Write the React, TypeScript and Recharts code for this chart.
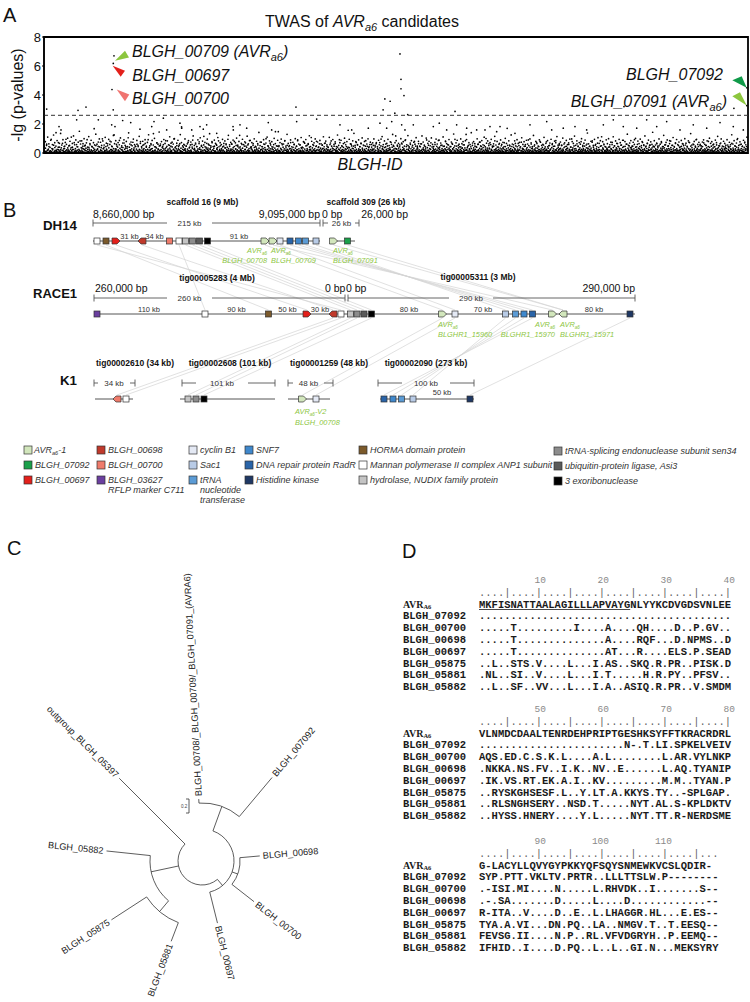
import React from 'react';
import { ScatterChart, Scatter, XAxis, YAxis, ReferenceLine, ReferenceArea, ReferenceDot } from 'recharts';

const SANS = "Arial, 'Liberation Sans', Helvetica, sans-serif";
const MONO = "'Courier New', 'Liberation Mono', monospace";

// ---------------- Panel A data ----------------
const Y_TICKS = [0, 2, 4, 6, 8];
const THRESHOLD = 2.6;
const N_GENES = 1200;
// -lg(p) of the bulk of genes, in hundredths, in genome order
const baseHundredths = [
  12,4,33,8,61,19,2,27,45,9,15,88,6,31,22,3,54,11,38,7,140,18,26,5,72,14,41,9,23,36,2,67,17,29,10,48,6,95,21,13,
  35,8,19,52,3,27,110,14,40,6,24,71,11,30,17,58,2,43,9,25,16,83,5,37,20,12,64,28,7,49,18,33,1,92,26,10,39,15,57,4,
  21,46,13,7,34,168,25,9,51,18,3,29,76,12,42,6,22,37,15,98,8,31,55,19,2,44,27,11,63,5,36,14,82,23,10,47,17,4,30,125,
  9,28,16,59,6,41,20,13,87,32,4,24,50,15,38,8,69,26,11,45,2,33,18,105,7,40,22,14,56,29,5,74,19,35,12,48,3,27,61,16,
  44,11,25,6,79,18,36,9,53,14,30,2,66,21,47,10,26,92,5,38,17,23,57,8,31,15,134,12,43,20,3,35,70,13,28,7,49,19,62,24,
  7,39,15,58,22,4,31,85,12,46,19,27,6,53,34,10,68,16,42,3,25,97,14,37,8,29,51,18,5,44,21,64,11,33,180,9,26,40,17,55,
  30,13,48,2,27,73,16,35,8,56,20,11,41,89,5,24,32,14,62,7,45,19,28,10,77,36,3,23,52,15,38,6,115,21,43,12,29,67,9,34,
  18,54,6,26,40,11,71,22,3,33,47,15,9,60,28,37,13,84,4,25,50,17,31,7,42,20,66,12,36,1,57,23,14,95,30,8,46,19,27,63,
  25,9,37,16,80,4,29,52,13,21,44,6,35,122,18,27,10,59,33,15,3,48,24,70,11,39,7,56,20,31,14,87,5,42,26,17,64,9,38,22,
  13,41,28,6,55,19,33,10,76,24,2,45,16,30,62,8,37,21,99,12,26,50,4,35,18,68,29,11,43,7,23,58,15,34,147,20,9,47,27,14,
  51,17,8,32,23,65,12,40,5,28,86,19,36,9,53,25,14,44,3,31,72,16,27,10,39,21,59,6,34,13,47,24,91,11,29,4,57,18,38,8,
  20,36,11,74,27,4,49,15,31,22,60,8,41,17,26,107,13,35,6,52,19,29,10,45,81,24,2,38,16,63,12,33,21,7,55,30,14,43,25,69,
  6,29,45,14,38,21,9,58,26,83,12,34,18,3,47,23,66,10,30,16,41,5,27,92,19,36,11,50,24,8,39,15,72,28,13,44,2,32,157,20,
  37,10,24,61,16,32,7,48,20,13,39,78,25,4,55,17,29,11,43,22,64,9,34,18,5,51,26,14,85,31,8,46,20,37,12,58,23,6,41,27,
  15,52,28,9,42,19,71,3,33,24,12,57,36,16,96,8,27,45,21,11,38,6,62,25,14,49,30,17,4,35,23,74,10,40,19,53,27,13,32,118,
  28,8,47,20,34,13,56,25,11,68,5,39,22,30,16,87,12,44,26,3,51,18,35,9,60,29,15,41,22,7,33,80,19,48,11,27,38,14,65,21,
  10,43,17,63,26,6,35,21,49,14,28,103,9,37,19,54,12,31,24,70,7,42,16,33,23,11,58,27,4,46,20,36,13,89,25,9,52,17,30,15,
  46,22,12,30,79,17,40,8,26,55,33,15,21,44,10,67,28,5,38,18,94,13,29,48,20,11,36,61,8,25,42,16,31,7,57,23,14,35,19,128,
  24,37,6,53,15,27,12,43,31,9,69,20,35,14,48,26,3,40,17,59,22,10,32,76,13,45,28,6,38,18,51,11,27,100,16,34,21,8,63,29,
  11,58,25,16,39,7,47,22,84,13,30,19,41,5,26,60,18,34,10,50,28,15,37,9,71,23,44,12,29,170,17,36,8,54,20,31,14,45,24,6,
  39,13,30,66,19,9,43,27,14,51,22,36,4,75,16,32,25,11,46,20,58,7,28,38,15,90,24,10,41,18,62,12,33,21,6,48,27,16,35,73,
  17,34,9,45,23,81,14,28,6,39,20,55,12,30,18,67,25,8,43,33,13,52,19,27,2,37,64,15,29,10,47,22,86,16,31,9,40,25,56,12,
  32,20,54,11,27,15,38,70,9,24,46,18,33,7,59,26,13,41,22,97,16,35,10,49,28,5,31,19,63,12,44,23,8,36,17,78,26,14,52,30,
  14,48,23,8,36,62,18,29,11,45,25,7,34,19,83,13,40,27,16,53,9,30,21,68,15,38,24,3,47,20,112,11,35,26,57,17,8,42,22,33,
  26,9,41,19,57,12,31,24,73,16,38,6,49,22,14,35,28,65,10,43,18,30,7,54,25,14,39,88,20,11,46,27,16,61,9,33,22,49,13,37,
  8,35,22,47,14,28,92,17,40,11,26,60,19,33,5,45,21,15,37,79,24,10,52,29,18,42,8,31,67,14,25,40,19,55,27,11,36,143,20,44,
  42,16,29,11,64,23,37,13,50,19,8,33,71,25,17,44,10,36,22,57,14,28,6,47,31,19,85,12,38,24,9,53,29,16,41,21,66,13,30,18,
  19,51,13,38,25,8,46,30,17,62,21,34,11,55,27,15,42,6,31,74,19,26,48,13,37,22,10,58,28,16,40,91,18,32,9,45,24,14,60,27,
  33,12,44,22,70,15,29,9,52,36,18,25,80,11,39,20,14,47,27,8,35,61,16,43,23,10,56,30,18,37,12,49,26,69,15,33,21,7,44,28,
  21,40,16,31,9,55,24,37,14,46,28,12,67,19,34,23,8,50,29,17,41,93,13,36,25,10,58,20,31,15,47,26,12,39,76,18,30,45,22,35,
];
// second set of genes: the dense floor (hundredths)
const lowHundredths = [
  3,12,7,21,5,15,9,28,2,18,11,6,24,13,4,19,8,31,14,1,22,10,6,17,26,3,13,9,20,5,16,11,33,7,23,4,14,10,27,8,
  15,5,19,10,2,25,12,7,17,4,30,9,14,21,6,11,3,23,16,8,13,27,5,18,10,1,22,12,7,34,9,15,4,20,11,6,24,13,2,17,
  9,22,4,14,26,8,16,3,11,20,6,29,13,5,18,10,2,24,15,7,12,32,4,19,9,14,6,21,11,3,25,16,8,13,28,5,17,10,1,23,
  20,7,13,2,17,11,31,5,22,9,14,4,26,12,8,19,3,15,10,23,6,29,13,1,18,11,7,24,4,16,9,21,14,5,35,12,3,19,8,15,
  6,18,11,27,4,14,9,22,16,3,12,25,7,19,10,2,30,13,5,17,8,21,12,4,15,26,9,6,23,11,3,18,14,7,28,10,5,20,13,2,
  13,4,24,8,16,1,20,11,6,28,14,9,3,18,12,22,5,15,10,33,7,13,2,19,16,8,25,4,11,21,6,14,17,3,23,9,12,30,5,16,
  10,21,5,15,12,7,29,3,18,13,8,24,4,16,11,20,6,26,9,14,2,19,12,31,5,17,10,7,22,14,3,27,8,15,11,4,21,13,6,18,
  24,9,16,3,13,20,7,11,32,5,17,10,14,2,23,8,15,19,4,12,28,6,16,9,13,21,3,18,11,7,25,14,5,10,20,2,16,12,29,8,
  4,17,12,23,8,14,2,19,10,26,6,13,21,9,16,3,30,11,7,18,14,5,24,12,1,20,9,15,27,6,12,4,22,17,8,13,35,10,5,19,
  17,6,28,11,4,15,22,9,13,7,19,3,25,12,16,5,21,10,14,33,8,18,2,12,24,7,15,11,6,20,9,29,4,14,17,3,23,11,8,16,
  11,25,7,14,19,3,16,10,27,5,12,20,8,15,4,31,13,6,18,11,2,22,9,16,7,26,12,4,19,14,10,24,5,17,8,13,21,3,15,28,
  7,14,20,4,11,29,6,17,12,2,23,9,15,18,5,13,26,8,11,21,4,16,10,34,7,19,13,3,24,9,14,6,20,12,1,17,27,8,15,10,
  19,3,12,26,9,16,5,21,14,8,30,11,4,17,13,23,7,10,18,2,25,12,6,15,20,9,13,28,4,16,11,22,5,14,8,19,3,24,12,7,
  14,23,8,11,2,18,13,32,6,15,10,20,4,27,12,9,16,5,22,13,7,19,11,3,25,14,8,17,10,29,6,12,21,4,16,9,24,13,2,18,
  5,16,10,21,13,7,24,3,14,19,11,6,28,9,17,4,22,12,15,8,31,10,2,18,13,26,6,15,11,20,7,23,14,3,17,12,9,27,5,21,
];
// third set of genes: the mid-level haze (hundredths)
const midHundredths = [
  45,78,52,110,63,39,95,58,124,71,48,86,40,67,135,55,92,44,73,60,102,49,81,38,66,118,57,90,43,75,150,62,84,47,99,54,70,41,113,65,
  88,42,71,56,130,61,46,97,74,52,83,39,108,68,50,94,59,77,43,121,64,85,48,72,57,104,41,69,91,53,80,45,139,62,76,50,96,58,44,87,
  53,115,67,44,81,58,92,40,73,126,49,64,87,55,101,42,70,61,145,51,79,46,93,66,38,84,57,112,47,75,62,99,43,68,88,54,127,72,49,60,
  97,48,63,85,41,76,59,118,52,69,44,91,65,105,47,82,56,73,39,96,61,133,50,78,45,89,67,54,107,43,71,58,94,48,83,63,40,122,57,74,
  61,89,45,70,103,54,80,42,67,95,58,77,48,116,63,86,40,72,53,98,46,81,64,142,51,75,43,92,60,69,110,47,84,56,78,41,101,65,50,88,
  44,72,96,57,62,83,48,129,66,51,90,43,74,59,99,46,85,62,55,107,41,78,68,93,52,64,119,45,81,58,70,97,49,76,42,87,63,54,112,67,
  82,56,41,108,69,47,93,60,77,44,124,53,71,88,46,65,102,57,79,40,95,63,49,84,136,52,73,58,91,45,68,104,55,80,47,62,98,43,75,59,
  70,97,53,64,45,88,72,49,113,58,83,42,66,94,51,77,60,128,46,71,85,54,67,43,99,62,78,48,91,57,120,44,69,86,52,74,61,106,47,81,
  48,63,118,76,55,42,90,67,81,50,104,59,45,73,96,62,87,40,69,54,111,47,82,65,58,93,44,76,61,131,49,70,88,53,43,97,64,79,56,85,
  93,46,71,58,140,52,79,64,44,98,61,75,49,86,57,109,42,68,83,51,72,94,47,63,115,55,80,41,67,90,59,74,45,101,66,53,84,48,125,62,
  57,84,49,92,66,73,43,105,59,78,47,88,62,51,97,70,44,121,56,81,65,48,91,74,53,60,108,42,77,86,50,69,95,58,46,82,71,113,54,64,
  76,51,103,62,45,87,58,70,96,41,79,66,117,53,84,48,72,61,99,44,68,89,55,138,63,47,81,74,52,94,59,43,106,67,85,50,78,62,45,91,
  64,99,42,75,58,112,50,83,67,46,94,71,55,88,44,79,62,130,53,69,86,47,74,59,101,43,82,65,96,51,73,57,118,48,66,89,54,77,60,47,
  85,55,68,47,97,61,79,44,122,56,73,90,49,65,82,53,107,45,70,93,58,76,43,87,64,51,99,68,46,84,72,134,55,62,80,47,95,59,74,52,
  49,76,91,60,53,84,45,102,67,78,56,43,89,71,115,50,63,97,48,81,66,54,92,44,74,58,126,62,85,47,69,100,52,77,61,45,88,70,57,109,
];
// sparse upper cloud (1.3 - 2.4)
const upperX = [25.6,29,55.7,92.6,115.4,121,134.1,147.8,163.6,183.6,187.5,203.4,209.1,231.8,234.7,251.8,265.9,271.5,294.4,322.2,334.1,345.5,
  277.3,322.7,382.3,388.1,399.4,430.7,464.8,504.5,524.5,552.8,572.7,584.1,592.7,609.7,615.3,629.5,663.6,673.8,686.4,703.4,720.5,737.5,760.2,771.6,
  751.7,777.3,802.8,828.4,856.9,865.4,885.1,905.1,925,953.4,970.4,987.4,1010.3,1027.3,1044.4,1061.4,1084.1,1106.7,1129.6,1152.3,1174.9,1192];
const upperY = [1.82,1.59,2.29,2.29,1.94,1.82,2.24,2.1,1.64,1.82,2.17,2.4,1.59,2.06,1.71,1.59,1.82,1.64,1.36,1.82,1.94,1.71,
  1.94,1.59,2.1,1.59,1.47,2.17,2.34,1.94,1.59,1.71,2.06,1.71,2.17,1.94,1.59,1.94,1.82,2.06,1.59,1.94,1.71,1.59,1.82,1.47,
  1.59,1.82,1.36,1.94,2.17,1.59,1.71,1.82,1.59,1.94,2.29,1.82,1.71,2.29,1.82,2.17,1.59,1.94,1.71,2.1,1.82,1.59];
// genes above / near the threshold
const peakX = [119.3,118.1,115.9,1197.8,1197.8,606.8,608.5,608.5,613.6,581,590,578,429.5,700.6,4.6,71.6,58,988.6,1176,598,620,118];
const peakY = [6.7,6.18,4.38,4.5,3.27,6.83,5.08,4.43,3.96,3.73,3.57,2.98,3.17,2.87,3.03,3.17,2.94,3.2,3.08,2.75,2.65,2.98];

const baseData = baseHundredths.map((v, i) => ({ x: i + 0.5, y: v / 100 }));
const lowData = lowHundredths.map((v, i) => ({ x: i * 2 + 1, y: v / 100 }));
const midData = midHundredths.map((v, i) => ({ x: i * 2 + 0.3, y: v / 100 }));
const upperData = upperX.map((x, i) => ({ x, y: upperY[i] }));
const peakData = peakX.map((x, i) => ({ x, y: peakY[i] }));

type Ann = { x: number; y: number; color: string; tri: number[][]; label: string; avr: boolean; dx: number; dy: number; anchor: 'start' | 'end' };
const ANNOTATIONS: Ann[] = [
  { x: 119.3, y: 6.7, color: '#8cc63e', tri: [[1, 5], [11, -5], [15, 1.6]], label: 'BLGH_00709 (', avr: true, dx: 18, dy: 1.5, anchor: 'start' },
  { x: 118.1, y: 6.18, color: '#e3201b', tri: [[-0.6, 2.4], [11.7, 7.4], [7.4, 13.4]], label: 'BLGH_00697', avr: false, dx: 19, dy: 17.7, anchor: 'start' },
  { x: 115.9, y: 4.38, color: '#f07470', tri: [[4.7, 0], [17.3, 5], [13, 11.7]], label: 'BLGH_00700', avr: false, dx: 20, dy: 15, anchor: 'start' },
  { x: 1197.8, y: 4.5, color: '#109a49', tri: [[-14.4, -7.6], [-5, -11.6], [0, 0]], label: 'BLGH_07092', avr: false, dx: -23.7, dy: -7.3, anchor: 'end' },
  { x: 1197.8, y: 3.27, color: '#8cc63e', tri: [[-14.4, -9.3], [-6.7, -13.3], [0, 0]], label: 'BLGH_07091 (', avr: true, dx: -19.7, dy: 1, anchor: 'end' },
];

const dot = (p: any) => <circle cx={p.cx} cy={p.cy} r={0.85} fill="#000" />;

const annShape = (a: Ann) => (p: any) => {
  const { cx, cy } = p;
  if (cx == null || cy == null) return <g />;
  const pts = a.tri.map(([dx, dy]) => `${cx + dx},${cy + dy}`).join(' ');
  return (
    <g>
      <polygon points={pts} fill={a.color} />
      <text x={cx + a.dx} y={cy + a.dy} textAnchor={a.anchor} fontSize={16} fontStyle="italic" fontFamily={SANS} fill="#111">
        {a.label}
        {a.avr ? 'AVR' : ''}
        {a.avr ? <tspan fontSize={11} dy={4}>a6</tspan> : null}
        {a.avr ? <tspan dy={-4}>)</tspan> : null}
      </text>
    </g>
  );
};

// ---------------- Panel B data ----------------
type Gene = { x: number; t: 'b' | 'r' | 'l'; c: string };
const C_AVR = '#d2e6bc', C_07092 = '#1aa04a', C_00697 = '#e3201b', C_00698 = '#c0392b', C_00700 = '#ef7b6b', C_03627 = '#6b3fa0';
const C_CYC = '#e4e9f4', C_SAC = '#b8cbe6', C_TRNA = '#5b9bd5', C_SNF7 = '#3f88cc', C_RADR = '#2a64a8', C_HIS = '#1f3864';
const C_HORMA = '#7b5a2b', C_MANNAN = '#ffffff', C_NUDIX = '#c4c4c4', C_SEN34 = '#8c8c8c', C_ASI3 = '#5a5a5a', C_EXO = '#000000';

const DH14_Y = 241, RACE1_Y = 314, K1_Y = 399;
const DH14_LINES = [[93, 320], [330, 355]];
const DH14_GENES: Gene[] = [
  { x: 97, t: 'b', c: C_MANNAN }, { x: 106, t: 'b', c: C_HORMA }, { x: 116, t: 'r', c: C_00697 }, { x: 142, t: 'l', c: C_00698 },
  { x: 169.5, t: 'b', c: C_00700 }, { x: 179, t: 'b', c: C_MANNAN }, { x: 185.5, t: 'b', c: C_NUDIX }, { x: 192.5, t: 'b', c: C_SEN34 },
  { x: 199.5, t: 'b', c: C_ASI3 }, { x: 207.5, t: 'b', c: C_EXO }, { x: 265, t: 'r', c: C_AVR }, { x: 273, t: 'r', c: C_AVR },
  { x: 280, t: 'b', c: C_CYC }, { x: 290, t: 'b', c: C_RADR }, { x: 298.5, t: 'b', c: C_SNF7 }, { x: 305.5, t: 'b', c: C_TRNA },
  { x: 316, t: 'b', c: C_SAC }, { x: 333.5, t: 'r', c: C_AVR }, { x: 347.5, t: 'b', c: C_07092 },
];
const DH14_DIST = [[129.5, '31 kb'], [154.5, '34 kb'], [239, '91 kb']] as [number, string][];
const RACE1_LINES = [[94, 635]];
const RACE1_GENES: Gene[] = [
  { x: 97, t: 'b', c: C_03627 }, { x: 205, t: 'b', c: C_MANNAN }, { x: 268.5, t: 'b', c: C_HORMA }, { x: 307, t: 'r', c: C_00697 },
  { x: 333, t: 'l', c: C_00698 }, { x: 341, t: 'b', c: C_MANNAN }, { x: 350.5, t: 'b', c: C_NUDIX }, { x: 357, t: 'b', c: C_SEN34 },
  { x: 364, t: 'b', c: C_ASI3 }, { x: 371.5, t: 'b', c: C_EXO }, { x: 442.5, t: 'r', c: C_AVR }, { x: 455, t: 'b', c: C_CYC },
  { x: 505.5, t: 'b', c: C_SAC }, { x: 515.5, t: 'b', c: C_TRNA }, { x: 524, t: 'b', c: C_SNF7 }, { x: 532.5, t: 'b', c: C_RADR },
  { x: 552.5, t: 'r', c: C_AVR }, { x: 563, t: 'l', c: C_AVR }, { x: 630, t: 'b', c: C_HIS },
];
const RACE1_DIST = [[149, '110 kb'], [236.5, '90 kb'], [287.5, '50 kb'], [320, '30 kb'], [409, '80 kb'], [483, '70 kb'], [594, '80 kb']] as [number, string][];
const K1_LINES = [[95, 133], [180, 275], [288, 330], [380, 474]];
const K1_GENES: Gene[] = [
  { x: 117, t: 'l', c: C_00700 }, { x: 126, t: 'b', c: C_MANNAN }, { x: 188, t: 'b', c: C_NUDIX }, { x: 196, t: 'b', c: C_SEN34 },
  { x: 204, t: 'b', c: C_EXO }, { x: 302.5, t: 'r', c: C_AVR }, { x: 316, t: 'b', c: C_CYC }, { x: 384, t: 'b', c: C_RADR },
  { x: 393, t: 'b', c: C_SNF7 }, { x: 401.5, t: 'b', c: C_TRNA }, { x: 413, t: 'b', c: C_SAC }, { x: 470, t: 'b', c: C_HIS },
];
const SYNTENY_DH_RACE = [[97, 341], [106, 268.5], [116, 307], [142, 333], [179, 205], [185.5, 350.5], [192.5, 357], [199.5, 364], [207.5, 371.5],
  [265, 442.5], [273, 552.5], [280, 455], [290, 532.5], [298.5, 524], [305.5, 515.5], [316, 505.5], [333.5, 563], [347.5, 563]];
const SYNTENY_RACE_K1 = [[333, 117], [341, 126], [350.5, 188], [357, 196], [371.5, 204], [442.5, 302.5], [455, 316],
  [505.5, 413], [515.5, 401.5], [524, 393], [532.5, 384], [630, 470]];

// legend
type Leg = { x: number; y: number; c: string; lines: string[]; avr?: boolean };
const LEGEND: Leg[] = [
  { x: 24, y: 450, c: C_AVR, lines: ['-1'], avr: true }, { x: 24, y: 465, c: C_07092, lines: ['BLGH_07092'] }, { x: 24, y: 480, c: C_00697, lines: ['BLGH_00697'] },
  { x: 97, y: 450, c: C_00698, lines: ['BLGH_00698'] }, { x: 97, y: 465, c: C_00700, lines: ['BLGH_00700'] }, { x: 97, y: 480, c: C_03627, lines: ['BLGH_03627', 'RFLP marker C711'] },
  { x: 189, y: 450, c: C_CYC, lines: ['cyclin B1'] }, { x: 189, y: 465, c: C_SAC, lines: ['Sac1'] }, { x: 189, y: 480, c: C_TRNA, lines: ['tRNA', 'nucleotide', 'transferase'] },
  { x: 245, y: 450, c: C_SNF7, lines: ['SNF7'] }, { x: 245, y: 465, c: C_RADR, lines: ['DNA repair protein RadR'] }, { x: 245, y: 480, c: C_HIS, lines: ['Histidine kinase'] },
  { x: 359, y: 450, c: C_HORMA, lines: ['HORMA domain protein'] }, { x: 359, y: 465, c: C_MANNAN, lines: ['Mannan polymerase II  complex ANP1 subunit'] }, { x: 359, y: 480, c: C_NUDIX, lines: ['hydrolase, NUDIX family protein'] },
  { x: 554, y: 451, c: C_SEN34, lines: ['tRNA-splicing endonuclease subunit sen34'] }, { x: 554, y: 466, c: C_ASI3, lines: ['ubiquitin-protein ligase, Asi3'] }, { x: 554, y: 481, c: C_EXO, lines: ['3 exoribonuclease'] },
];

// ---------------- Panel C data ----------------
const TREE_CX = 202, TREE_CY = 861;
const TREE_ARCS = [[24, 140, 315], [32, 20, 166], [38, 85, 128], [58, -3, 40], [52, 220, 276], [66, 201, 237]];
const TREE_STEMS = [[140, 24, 32], [110, 32, 38], [20, 32, 58], [258, 24, 52], [220, 52, 66]];
const TREE_LEAVES = [
  { name: 'BLGH_00708/_BLGH_00709/_BLGH_07091_(AVRA6)', a: -3, r1: 58, r2: 62 },
  { name: 'BLGH_007092', a: 40, r1: 58, r2: 109 },
  { name: 'BLGH_00698', a: 85, r1: 38, r2: 58 },
  { name: 'BLGH_00700', a: 128, r1: 38, r2: 66 },
  { name: 'BLGH_00697', a: 166, r1: 32, r2: 64 },
  { name: 'BLGH_05881', a: 201, r1: 66, r2: 86 },
  { name: 'BLGH_05875', a: 237, r1: 66, r2: 108 },
  { name: 'BLGH_05882', a: 276, r1: 52, r2: 96 },
  { name: 'outgroup_BLGH_05397', a: 315, r1: 24, r2: 117 },
];

// ---------------- Panel D data ----------------
const ALN_NAMES = ['BLGH_07092', 'BLGH_00700', 'BLGH_00698', 'BLGH_00697', 'BLGH_05875', 'BLGH_05881', 'BLGH_05882'];
const ALN_AVR = ['MKFISNATTAALAGILLLAPVAYGNLYYKCDVGDSVNLEE', 'VLNMDCDAALTENRDEHPRIPTGESHKSYFFTKRACRDRL', 'G-LACYLLQVYGYPKKYQFSQYSNMEWKVCSLQDIR-'];
const ALN_BLOCKS = [
  ['........................................', '.....T.........I....A....QH....D..P.GV..', '.....T..............A....RQF...D.NPMS..D',
    '.....T..............AT...R....ELS.P.SEAD', '..L..STS.V....L...I.AS..SKQ.R.PR..PISK.D', '.NL..SI..V....L...I.T.....H.R.PY..PFSV..',
    '..L..SF..VV...L...I.A..ASIQ.R.PR..V.SMDM'],
  ['.......................N-.T.LI.SPKELVEIV', 'AQS.ED.C.S.K.L....A.L........L.AR.VYLNKP', '.NKKA.NS.FV..I.K..NV..E......L.AQ.TYANIP',
    '.IK.VS.RT.EK.A.I..KV.........M.M..TYAN.P', '..RYSKGHSESF.L..Y.LT.A.KKYS.TY..-SPLGAP.', '..RLSNGHSERY..NSD.T.....NYT.AL.S-KPLDKTV',
    '..HYSS.HNERY....Y.L.....NYT.TT.R-NERDSME'],
  ['SYP.PTT.VKLTV.PRTR..LLLTTSLW.P--------', '.-ISI.MI....N.....L.RHVDK..I.......S--', '.-.SA.......D.....L....D............--',
    'R-ITA..V....D..E..L.LHAGGR.HL...E.ES--', 'TYA.A.VI...DN.PQ..LA..NMGV.T..T.EESQ--', 'FEVSG.II....N.P..RL.VFVDGRYH..P.EEMQ--',
    'IFHID..I....D.PQ..L..L..GI.N...MEKSYRY'],
];
const ALN_RULER_NUMS = [[10, 20, 30, 40], [50, 60, 70, 80], [90, 100, 110]];
const ALN_RULERS = ['....|....|....|....|....|....|....|....|', '....|....|....|....|....|....|....|....|', '....|....|....|....|....|....|....|...'];
const ALN_BLOCK_START = [1, 41, 81];
const ALN_AVR_BASE = [607.5, 736.5, 868.5];

// ---------------- helpers ----------------
function AvrText({ x, y, size, color, anchor = 'start', pre = '', post = '', bold = false }: any) {
  return (
    <text x={x} y={y} fontSize={size} fill={color} textAnchor={anchor} fontStyle="italic" fontWeight={bold ? 'bold' : 'normal'} fontFamily={SANS}>
      {pre}AVR<tspan fontSize={size * 0.62} dy={size * 0.22}>a6</tspan>
      {post ? <tspan dy={-size * 0.22}>{post}</tspan> : null}
    </text>
  );
}

function GeneGlyph({ g, y }: { g: Gene; y: number }) {
  const s = 3;
  if (g.t === 'b') return <rect x={g.x - s} y={y - s} width={2 * s} height={2 * s} fill={g.c} stroke="#333" strokeWidth={0.7} />;
  const d = g.t === 'r' ? 1 : -1;
  const pts = [[-4 * d, -3], [1 * d, -3], [4 * d, 0], [1 * d, 3], [-4 * d, 3]].map(([a, b]) => `${g.x + a},${y + b}`).join(' ');
  return <polygon points={pts} fill={g.c} stroke="#333" strokeWidth={0.7} />;
}

function Track({ lines, genes, y, dists }: { lines: number[][]; genes: Gene[]; y: number; dists: [number, string][] }) {
  return (
    <g>
      {lines.map(([a, b], i) => <line key={i} x1={a} x2={b} y1={y} y2={y} stroke="#555" strokeWidth={1} />)}
      {dists.map(([x, t], i) => <text key={i} x={x} y={y - 2.5} fontSize={7.5} textAnchor="middle" fill="#333" fontFamily={SANS}>{t}</text>)}
      {genes.map((g, i) => <GeneGlyph key={i} g={g} y={y} />)}
    </g>
  );
}

function ScaleBar({ y, segs }: { y: number; segs: { a: number; b: number; label: string; ta: number; tb: number }[] }) {
  return (
    <g stroke="#555" strokeWidth={0.9}>
      {segs.map((s, i) => (
        <g key={i}>
          <line x1={s.a} x2={s.ta} y1={y} y2={y} />
          <line x1={s.tb} x2={s.b} y1={y} y2={y} />
          <line x1={s.a} x2={s.a} y1={y - 3.5} y2={y + 3.5} />
          <line x1={s.b} x2={s.b} y1={y - 3.5} y2={y + 3.5} />
          <text x={(s.ta + s.tb) / 2} y={y + 3} fontSize={8} textAnchor="middle" fill="#333" stroke="none" fontFamily={SANS}>{s.label}</text>
        </g>
      ))}
    </g>
  );
}

const pol = (r: number, a: number) => {
  const t = (a * Math.PI) / 180;
  return [TREE_CX + r * Math.sin(t), TREE_CY - r * Math.cos(t)];
};
const arcPath = (r: number, a1: number, a2: number) => {
  const [x1, y1] = pol(r, a1);
  const [x2, y2] = pol(r, a2);
  return `M ${x1} ${y1} A ${r} ${r} 0 ${a2 - a1 > 180 ? 1 : 0} 1 ${x2} ${y2}`;
};

function Tree() {
  return (
    <g stroke="#333" strokeWidth={0.8} fill="none">
      {TREE_ARCS.map(([r, a1, a2], i) => <path key={'a' + i} d={arcPath(r, a1, a2)} />)}
      {TREE_STEMS.map(([a, r1, r2], i) => {
        const [x1, y1] = pol(r1, a); const [x2, y2] = pol(r2, a);
        return <line key={'s' + i} x1={x1} y1={y1} x2={x2} y2={y2} />;
      })}
      {TREE_LEAVES.map((l, i) => {
        const [x1, y1] = pol(l.r1, l.a); const [x2, y2] = pol(l.r2, l.a);
        const [tx, ty] = pol(l.r2 + 3, l.a);
        const right = l.a >= -10 && l.a <= 180;
        const rot = right ? l.a - 90 : l.a + 90;
        return (
          <g key={'l' + i}>
            <line x1={x1} y1={y1} x2={x2} y2={y2} />
            <text x={tx} y={ty} dy={3.2} transform={`rotate(${rot} ${tx} ${ty})`} textAnchor={right ? 'start' : 'end'}
              fontSize={9.2} fill="#222" stroke="none" fontFamily={SANS}>{l.name}</text>
          </g>
        );
      })}
      <path d="M 186 799 L 189 799 L 189 813 L 186 813" />
      <text x={181} y={808} fontSize={4.5} fill="#444" stroke="none" fontFamily={SANS}>0.2</text>
    </g>
  );
}

function Alignment() {
  const cw = 6.3, x0 = 479, nameX = 403, rowH = 11.8;
  return (
    <g fontFamily={MONO} fontSize={10.5} fill="#1a1a1a">
      {ALN_BLOCKS.map((rows, b) => {
        const base = ALN_AVR_BASE[b];
        return (
          <g key={b}>
            {ALN_RULER_NUMS[b].map((n) => {
              const c = n - ALN_BLOCK_START[b] + 1;
              return <text key={n} x={x0 + c * cw + 4} y={base - 25} textAnchor="end" fontSize={9.5} fill="#8a8a8a">{n}</text>;
            })}
            <text x={x0} y={base - 12} fill="#666" fontSize={10.5} xmlSpace="preserve" style={{ WebkitFontSmoothing: 'antialiased' } as any}>{ALN_RULERS[b]}</text>
            <text x={nameX} y={base} fontWeight="bold" fontFamily="'Times New Roman', 'Liberation Serif', serif" fontSize={10}>
              AVR<tspan fontSize={6.5} dy={1.5}>A6</tspan>
            </text>
            <text x={x0} y={base} fontWeight="bold">{ALN_AVR[b]}</text>
            {b === 0 ? <line x1={x0} x2={x0 + 24 * cw} y1={base + 2} y2={base + 2} stroke="#1a1a1a" strokeWidth={0.8} /> : null}
            {rows.map((s, i) => (
              <g key={i}>
                <text x={nameX} y={base + (i + 1) * rowH} fontWeight="bold">{ALN_NAMES[i]}</text>
                <text x={x0} y={base + (i + 1) * rowH} fontWeight="bold">{s}</text>
              </g>
            ))}
          </g>
        );
      })}
    </g>
  );
}

export default function App() {
  const green = '#8dc63f';
  const lf = 7.4;
  return (
    <div style={{ position: 'absolute', left: 0, top: 0, width: 750, height: 1002, background: '#fff', fontFamily: SANS }}>
      <svg width={750} height={1002} style={{ position: 'absolute', left: 0, top: 0 }}>
        {/* Panel A texts */}
        <text x={3} y={21.5} fontSize={20} fontFamily={SANS} fill="#111">A</text>
        <text x={362} y={27} fontSize={16} textAnchor="middle" fontFamily={SANS} fill="#111">
          TWAS of <tspan fontStyle="italic">AVR</tspan><tspan fontStyle="italic" fontSize={11} dy={4}>a6</tspan><tspan dy={-4}> candidates</tspan>
        </text>
        <text transform="translate(23,95) rotate(-90)" textAnchor="middle" fontSize={16} fontFamily={SANS} fill="#111">-lg (p-values)</text>
        <text x={370} y={170} textAnchor="middle" fontSize={16} fontStyle="italic" fontFamily={SANS} fill="#111">BLGH-ID</text>

        {/* Panel B */}
        <text x={3} y={217} fontSize={20} fontFamily={SANS} fill="#111">B</text>
        <g stroke="#d4d4d4" strokeWidth={0.7}>
          {SYNTENY_DH_RACE.map(([a, b], i) => <line key={i} x1={a} y1={DH14_Y + 4} x2={b} y2={RACE1_Y - 4} />)}
          {SYNTENY_RACE_K1.map(([a, b], i) => <line key={i} x1={a} y1={RACE1_Y + 4} x2={b} y2={K1_Y - 4} />)}
        </g>
        <g fontFamily={SANS} fill="#111">
          <text x={202.5} y={205} fontSize={8.5} fontWeight="bold" textAnchor="middle">scaffold 16 (9 Mb)</text>
          <text x={366} y={205} fontSize={8.5} fontWeight="bold" textAnchor="middle">scaffold 309 (26 kb)</text>
          <text x={43} y={230} fontSize={13.3} fontWeight="bold">DH14</text>
          <text x={93} y={218} fontSize={10.5}>8,660,000 bp</text>
          <text x={320} y={218} fontSize={10.5} textAnchor="end">9,095,000 bp</text>
          <text x={322} y={218} fontSize={10.5}>0 bp</text>
          <text x={408} y={218} fontSize={10.5} textAnchor="end">26,000 bp</text>

          <text x={217} y={281} fontSize={8.5} fontWeight="bold" textAnchor="middle">tig00005283 (4 Mb)</text>
          <text x={478} y={280} fontSize={8.5} fontWeight="bold" textAnchor="middle">tig00005311 (3 Mb)</text>
          <text x={33} y={298} fontSize={13} fontWeight="bold">RACE1</text>
          <text x={95} y={292} fontSize={10.5}>260,000 bp</text>
          <text x={325} y={292} fontSize={10.5}>0 bp</text>
          <text x={346} y={292} fontSize={10.5}>0 bp</text>
          <text x={635} y={292} fontSize={10.5} textAnchor="end">290,000 bp</text>

          <text x={60} y={385} fontSize={13.3} fontWeight="bold">K1</text>
          <text x={135} y={366} fontSize={8.5} fontWeight="bold" textAnchor="middle">tig00002610 (34 kb)</text>
          <text x={230} y={366} fontSize={8.5} fontWeight="bold" textAnchor="middle">tig00002608 (101 kb)</text>
          <text x={329} y={366} fontSize={8.5} fontWeight="bold" textAnchor="middle">tig00001259 (48 kb)</text>
          <text x={426} y={366} fontSize={8.5} fontWeight="bold" textAnchor="middle">tig00002090 (273 kb)</text>
        </g>
        <ScaleBar y={223} segs={[{ a: 93, b: 320, label: '215 kb', ta: 167, tb: 212 }, { a: 323, b: 359, label: '26 kb', ta: 328, tb: 355 }]} />
        <ScaleBar y={298} segs={[{ a: 94, b: 345, label: '260 kb', ta: 167, tb: 212 }, { a: 348, b: 635, label: '290 kb', ta: 449, tb: 493 }]} />
        <ScaleBar y={383} segs={[{ a: 94, b: 135, label: '34 kb', ta: 98, tb: 130 }, { a: 182, b: 275, label: '101 kb', ta: 196, tb: 248 },
          { a: 288, b: 333, label: '48 kb', ta: 293, tb: 324 }, { a: 378, b: 474, label: '100 kb', ta: 402, tb: 450 }]} />
        <Track lines={DH14_LINES} genes={DH14_GENES} y={DH14_Y} dists={DH14_DIST} />
        <Track lines={RACE1_LINES} genes={RACE1_GENES} y={RACE1_Y} dists={RACE1_DIST} />
        <Track lines={K1_LINES} genes={K1_GENES} y={K1_Y} dists={[]} />
        <text x={442} y={395} fontSize={7.5} textAnchor="middle" fill="#333" fontFamily={SANS}>50 kb</text>

        <AvrText x={267} y={253} size={lf} color={green} anchor="end" />
        <text x={267} y={263} fontSize={lf} fill={green} textAnchor="end" fontStyle="italic" fontFamily={SANS}>BLGH_00708</text>
        <AvrText x={271} y={253} size={lf} color={green} />
        <text x={271} y={263} fontSize={lf} fill={green} fontStyle="italic" fontFamily={SANS}>BLGH_00709</text>
        <AvrText x={333} y={253} size={lf} color={green} />
        <text x={333} y={263} fontSize={lf} fill={green} fontStyle="italic" fontFamily={SANS}>BLGH_07091</text>
        <AvrText x={438} y={327} size={lf} color={green} />
        <text x={438} y={337} fontSize={lf} fill={green} fontStyle="italic" fontFamily={SANS}>BLGHR1_15960</text>
        <AvrText x={555} y={327} size={lf} color={green} anchor="end" />
        <text x={555} y={337} fontSize={lf} fill={green} textAnchor="end" fontStyle="italic" fontFamily={SANS}>BLGHR1_15970</text>
        <AvrText x={560} y={327} size={lf} color={green} />
        <text x={560} y={337} fontSize={lf} fill={green} fontStyle="italic" fontFamily={SANS}>BLGHR1_15971</text>
        <AvrText x={295} y={414} size={lf} color={green} post="-V2" />
        <text x={295} y={425} fontSize={lf} fill={green} fontStyle="italic" fontFamily={SANS}>BLGH_00708</text>

        {LEGEND.map((l, i) => (
          <g key={i}>
            <rect x={l.x} y={l.y - 4} width={8} height={8} fill={l.c} stroke="#333" strokeWidth={0.7} />
            {l.avr ? <AvrText x={l.x + 10} y={l.y + 3.3} size={9} color="#333" post={l.lines[0]} /> :
              l.lines.map((t, j) => (
                <text key={j} x={l.x + 11} y={l.y + 3.3 + j * 10} fontSize={9} fontStyle="italic" fill="#333" fontFamily={SANS}>{t}</text>
              ))}
          </g>
        ))}

        {/* Panel C */}
        <text x={7} y={555} fontSize={20} fontFamily={SANS} fill="#111">C</text>
        <Tree />

        {/* Panel D */}
        <text x={402} y={558} fontSize={20} fontFamily={SANS} fill="#111">D</text>
        <Alignment />
      </svg>

      <div style={{ position: 'absolute', left: 0, top: 0 }}>
        <ScatterChart width={750} height={185} margin={{ top: 37, right: 2, bottom: 0, left: 0 }}>
          <XAxis type="number" dataKey="x" domain={[0, N_GENES]} tick={false} tickLine={false} axisLine={{ stroke: '#000', strokeWidth: 1.8 }} height={32} allowDataOverflow />
          <YAxis type="number" dataKey="y" domain={[0, 8]} ticks={Y_TICKS} width={44} tickSize={2} tickMargin={1}
            axisLine={{ stroke: '#000' }} tickLine={{ stroke: '#000' }} tick={{ fill: '#111', fontSize: 13, fontFamily: SANS }} allowDataOverflow />
          <ReferenceArea x1={0} x2={N_GENES} y1={0} y2={8} fill="none" fillOpacity={0} stroke="#000" strokeWidth={1.8} ifOverflow="visible" />
          <ReferenceLine y={THRESHOLD} stroke="#333" strokeDasharray="4 3" strokeWidth={1} />
          <Scatter data={lowData} fill="#000" shape={dot} isAnimationActive={false} />
          <Scatter data={baseData} fill="#000" shape={dot} isAnimationActive={false} />
          <Scatter data={midData} fill="#000" shape={dot} isAnimationActive={false} />
          <Scatter data={upperData} fill="#000" shape={dot} isAnimationActive={false} />
          <Scatter data={peakData} fill="#000" shape={dot} isAnimationActive={false} />
          {ANNOTATIONS.map((a, i) => (
            <ReferenceDot key={i} x={a.x} y={a.y} r={0} ifOverflow="visible" shape={annShape(a)} />
          ))}
        </ScatterChart>
      </div>
    </div>
  );
}
